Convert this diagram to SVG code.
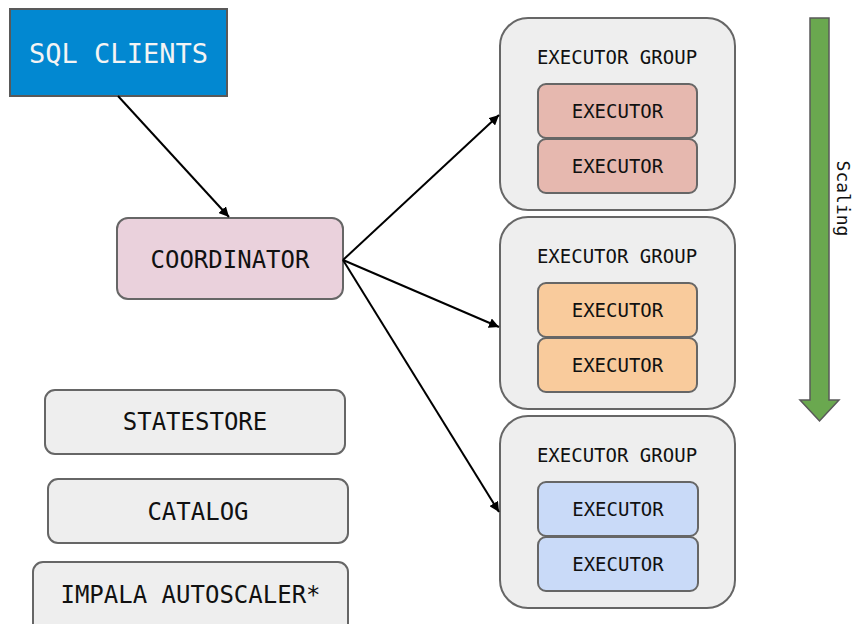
<svg xmlns="http://www.w3.org/2000/svg" width="853" height="624" viewBox="0 0 853 624">
<defs>
<marker id="ah" viewBox="0 0 10 10" refX="10" refY="5" markerWidth="10" markerHeight="10" markerUnits="userSpaceOnUse" orient="auto">
<path d="M0,0 L10,5 L0,10 z" fill="#000"/>
</marker>
<style>
text{font-family:"DejaVu Sans Mono","Liberation Mono",monospace;text-anchor:middle;dominant-baseline:central;fill:#111}
.box{stroke:#666;stroke-width:2}
.grp{fill:#eeeeee;stroke:#666;stroke-width:2}
.ex{stroke:#666;stroke-width:2}
.l24{font-size:24px}
.l19{font-size:19px}
.conn{stroke:#000;stroke-width:2;fill:none}
</style>
</defs>
<rect width="853" height="624" fill="#fff"/>
<g id="sql-clients">
<rect x="10" y="9" width="217" height="87" fill="#0288d1" stroke="#595959" stroke-width="2"/>
<text x="118.5" y="53" style="font-size:27px;fill:#f4f4f4">SQL CLIENTS</text>
</g>
<g id="coordinator">
<rect class="box" x="117" y="218" width="226" height="81" rx="11" fill="#ead1dc"/>
<text class="l24" x="230" y="260">COORDINATOR</text>
</g>
<g id="executor-group-1">
<rect class="grp" x="500" y="18" width="235" height="192" rx="28"/>
<text class="l19" x="617" y="57">EXECUTOR GROUP</text>
<rect class="ex" x="538" y="84" width="159" height="54" rx="8" fill="#e6b8af"/>
<text class="l19" x="617.5" y="111">EXECUTOR</text>
<rect class="ex" x="538" y="139" width="159" height="54" rx="8" fill="#e6b8af"/>
<text class="l19" x="617.5" y="166">EXECUTOR</text>
</g>
<g id="executor-group-2">
<rect class="grp" x="500" y="217" width="235" height="192" rx="28"/>
<text class="l19" x="617" y="256">EXECUTOR GROUP</text>
<rect class="ex" x="538" y="283" width="159" height="54" rx="8" fill="#f9cb9c"/>
<text class="l19" x="617.5" y="310">EXECUTOR</text>
<rect class="ex" x="538" y="338" width="159" height="54" rx="8" fill="#f9cb9c"/>
<text class="l19" x="617.5" y="365">EXECUTOR</text>
</g>
<g id="executor-group-3">
<rect class="grp" x="500" y="416" width="235" height="192" rx="28"/>
<text class="l19" x="617" y="455">EXECUTOR GROUP</text>
<rect class="ex" x="538" y="482" width="160" height="54" rx="8" fill="#c9daf8"/>
<text class="l19" x="618" y="509">EXECUTOR</text>
<rect class="ex" x="538" y="537" width="160" height="54" rx="8" fill="#c9daf8"/>
<text class="l19" x="618" y="564">EXECUTOR</text>
</g>
<g id="scaling">
<path d="M810,18 H829 V400 H839 L819.5,421 L800,400 H810 Z" fill="#6aa84f" stroke="#595959" stroke-width="1.5"/>
<text x="843" y="198.5" transform="rotate(90 843 198.5)" style="font-size:18px">Scaling</text>
</g>
<g id="statestore">
<rect class="box" x="45" y="390" width="300" height="64" rx="10" fill="#eeeeee"/>
<text class="l24" x="195" y="422">STATESTORE</text>
</g>
<g id="catalog">
<rect class="box" x="48" y="479" width="300" height="64" rx="10" fill="#eeeeee"/>
<text class="l24" x="198" y="512">CATALOG</text>
</g>
<g id="impala-autoscaler">
<rect class="box" x="33" y="562" width="315" height="80" rx="10" fill="#eeeeee"/>
<text class="l24" x="190.5" y="595">IMPALA AUTOSCALER*</text>
</g>
<g id="connectors">
<line class="conn" x1="118" y1="96" x2="229" y2="217" marker-end="url(#ah)"/>
<line class="conn" x1="343" y1="260" x2="499" y2="115" marker-end="url(#ah)"/>
<line class="conn" x1="343" y1="260" x2="499" y2="327" marker-end="url(#ah)"/>
<line class="conn" x1="343" y1="260" x2="499" y2="512" marker-end="url(#ah)"/>
</g>
</svg>
